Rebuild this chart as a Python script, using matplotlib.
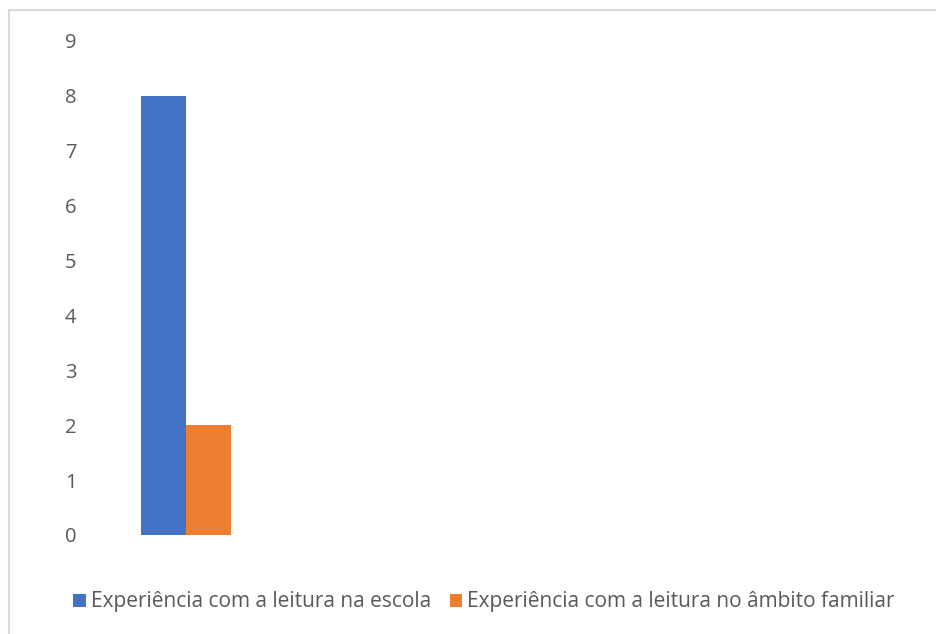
import matplotlib.pyplot as plt
from matplotlib.patches import Rectangle
import numpy as np

plt.rcParams['font.family'] = ['Open Sans', 'DejaVu Sans']

# Dados do gráfico
categorias = ['']
escola = [8]
familiar = [2]
series_nomes = ['Experiência com a leitura na escola',
                'Experiência com a leitura no âmbito familiar']
y_ticks = list(range(0, 10))

azul = '#4472C4'
laranja = '#ED7D31'
cinza = '#595959'

fig = plt.figure(figsize=(9.37, 6.34), dpi=100)

# moldura cinza clara (estilo Excel)
fig.patches.append(Rectangle((9 / 937, -0.1), 1.1, 1 - 10 / 634 + 0.1,
                             transform=fig.transFigure, fill=False,
                             edgecolor='#D9D9D9', lw=1.5))

# área do gráfico em pixels
left, right, top, bottom = 107, 925, 41, 535
ax = fig.add_axes([left / 937, 1 - bottom / 634,
                   (right - left) / 937, (bottom - top) / 634])

x = np.arange(len(categorias))
larg = 45 / 157.5
ax.bar(x - larg / 2, escola, larg, color=azul, label=series_nomes[0])
ax.bar(x + larg / 2, familiar, larg, color=laranja, label=series_nomes[1])

ax.set_xlim(-0.5, -0.5 + (right - left) / 157.5)
ax.set_ylim(0, 9)
ax.set_yticks(y_ticks)
ax.set_xticks([])
ax.tick_params(axis='y', length=0, pad=22, labelsize=14.5, labelcolor=cinza)
for s in ax.spines.values():
    s.set_visible(False)

fig.legend(loc='center', bbox_to_anchor=(484 / 937, 1 - 602 / 634),
           ncol=2, frameon=False, fontsize=15, labelcolor=cinza,
           handlelength=0.6, handleheight=0.6, handletextpad=0.25,
           columnspacing=0.9)

fig.savefig('out.png', dpi=100)
